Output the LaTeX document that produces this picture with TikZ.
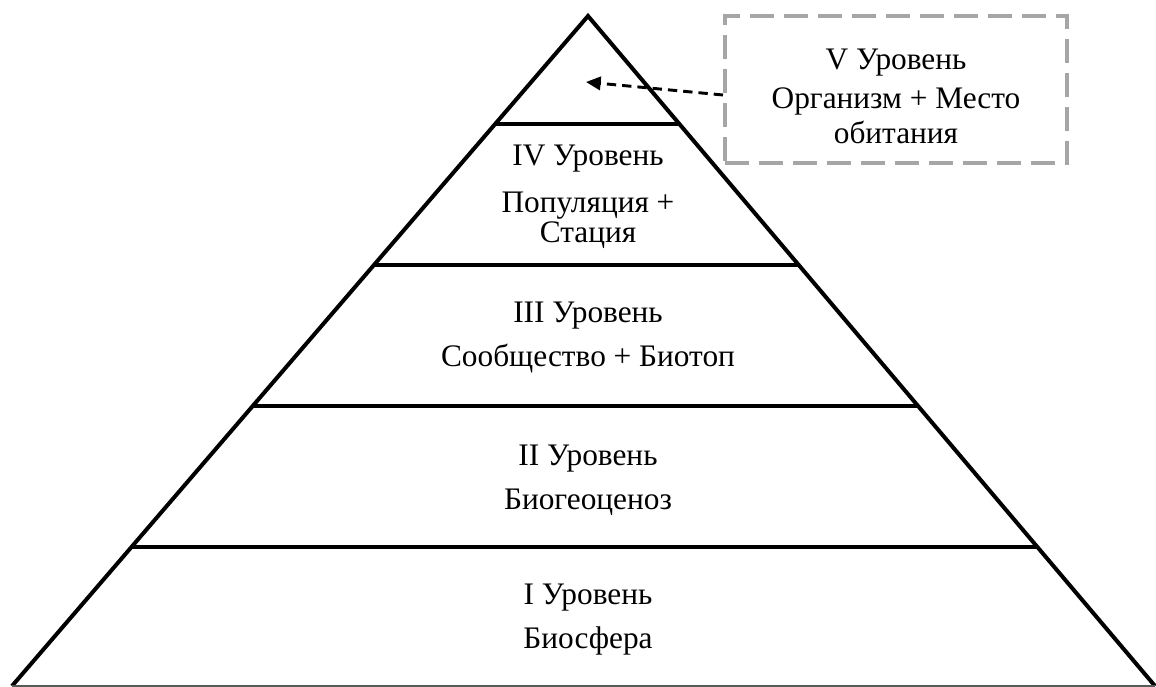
\documentclass[tikz,border=0pt]{standalone}
\usepackage{fontspec}
\setmainfont{Liberation Serif}
\usetikzlibrary{arrows.meta, calc, positioning}

\begin{document}
\begin{tikzpicture}[x=0.75pt, y=-0.75pt,
		edge/.style = {line width=3pt},
		lvl/.style = {align=center, font=\fontsize{23.5}{26}\selectfont},
		vbox/.style = {draw=black!35, line width=3pt, dash pattern=on 18pt off 7.5pt,
			minimum width=256.5pt, minimum height=110.25pt, align=center,
			font=\fontsize{23.5}{26}\selectfont}]
		\useasboundingbox (0,0) rectangle (1156,686);
		\coordinate (top) at (588,16);
		\coordinate (bl) at (12,686);
		\coordinate (br) at (1155,686);
		\draw[edge, line join=miter] (bl) -- (top) -- (br);
		\draw[black!65, line width=1pt] (bl) -- (br);
		\foreach \t/\n in {0.1612/4, 0.3716/3, 0.5821/2, 0.7925/1}
			\draw[edge] ($(top)!\t!(bl)$) -- ($(top)!\t!(br)$);
		\node[lvl] (l1) at (588,620) {I Уровень\\[7pt]Биосфера};
		\node[lvl] (l2) at (588,480) {II Уровень\\[7pt]Биогеоценоз};
		\node[lvl] (l3) at (588,337) {III Уровень\\[7pt]Сообщество + Биотоп};
		\node[lvl] (l4) at (588,197) {IV Уровень\\[9pt]Популяция +\\[-3.5pt]Стация};
		\node[vbox] (l5) at (896,89.5) {\rule{0pt}{26pt}V Уровень\\[3pt]Организм + Место\\[0.5pt]обитания};
		\coordinate (tip) at (586,82);
		\draw[line width=2.2pt, dash pattern=on 7pt off 4.5pt,
			-{Triangle[length=11pt,width=10pt]}] ($(l5.west)+(0,5.5)$) -- (tip);
	\end{tikzpicture}
\end{document}
